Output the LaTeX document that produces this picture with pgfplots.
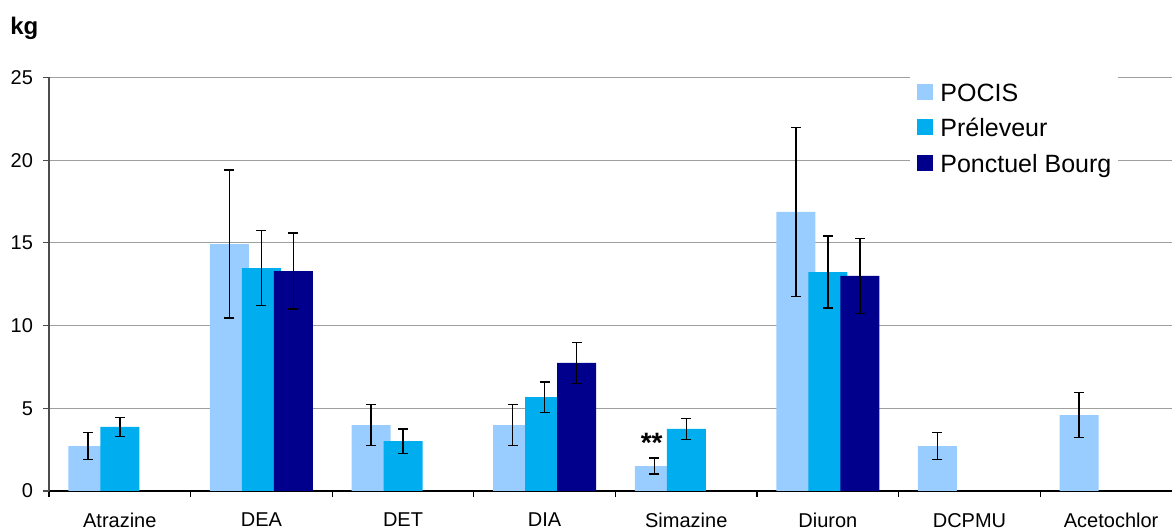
\documentclass[border=0pt]{standalone}
\usepackage{pgfplots}
\pgfplotsset{compat=1.18}
\usepackage{pgfplotstable}
\usepackage{fontspec}
\setmainfont{Liberation Sans}
\definecolor{cPOCIS}{RGB}{153,204,255}
\definecolor{cPrel}{RGB}{0,174,239}
\definecolor{cPonc}{RGB}{0,0,140}
\pgfplotstableread{
x y e
-0.226 2.72 0.83
0.774 14.93 4.48
1.774 3.99 1.24
2.774 3.99 1.24
3.774 1.51 0.48
4.774 16.87 5.10
5.774 2.72 0.83
6.774 4.59 1.37
}\pocis
\pgfplotstableread{
x y e
0 3.87 0.59
1 13.48 2.26
2 3.02 0.74
3 5.68 0.92
4 3.75 0.63
5 13.24 2.18
}\prel
\pgfplotstableread{
x y e
1.226 13.30 2.30
3.226 7.74 1.25
5.226 13.00 2.28
}\ponc
\begin{document}
\begin{tikzpicture}
\begin{axis}[
  scale only axis, width=561.5pt, height=206.75pt,
  at={(0pt,0pt)}, anchor=south west,
  xmin=-0.5, xmax=7.43, ymin=0, ymax=25,
  axis lines*=left,
  x axis line style={black, line width=0.8pt},
  y axis line style={black!70, line width=0.6pt},
  ytick={0,5,...,25},
  xtick={0,...,7},
  xticklabels={Atrazine,DEA,DET,DIA,Simazine,Diuron,DCPMU,Acetochlor},
  minor xtick={-0.5,0.5,...,6.5},
  tick align=outside,
  major tick length=3pt, minor tick length=3pt,
  major x tick style={draw=none},
  minor x tick style={black, line width=0.6pt},
  major y tick style={black!70, line width=0.6pt},
  ymajorgrids, grid style={gray!75, line width=0.5pt},
  tick label style={font=\fontsize{10}{12}\selectfont},
  xticklabel style={yshift=-4.5pt},
  yticklabel style={xshift=-1.5pt},
  /pgf/number format/assume math mode=true,
  ylabel={kg},
  every axis y label/.style={at={(rel axis cs:0,1)}, anchor=base west, xshift=-19.5pt, yshift=21.25pt, inner sep=0pt, font=\fontsize{12}{14}\selectfont\bfseries},
  legend style={at={(rel axis cs:0.7667,1.006)}, anchor=north west, draw=none, fill=white,
    font=\fontsize{12.5}{15}\selectfont, row sep=2.25pt, column sep=3.5pt,
    inner xsep=3.5pt, inner ysep=2pt,
    nodes={text height=9pt, text depth=2.5pt, inner xsep=0pt, inner ysep=2pt}},
  legend cell align=left,
  legend image code/.code={\fill[#1] (0pt,-2.5pt) rectangle (8pt,5.5pt);},
]
\addplot[ybar, bar width=0.2754, bar shift=0, fill=cPOCIS, draw=none,
  error bars/.cd, y dir=both, y explicit,
  error bar style={black, line width=0.7pt},
  error mark options={rotate=90, black, mark size=2.5pt, line width=0.7pt}] table[x=x, y=y, y error=e] {\pocis};
\addlegendentry{POCIS}
\addplot[ybar, bar width=0.2754, bar shift=0, fill=cPrel, draw=none,
  error bars/.cd, y dir=both, y explicit,
  error bar style={black, line width=0.7pt},
  error mark options={rotate=90, black, mark size=2.5pt, line width=0.7pt}] table[x=x, y=y, y error=e] {\prel};
\addlegendentry{Préleveur}
\addplot[ybar, bar width=0.2754, bar shift=0, fill=cPonc, draw=none,
  error bars/.cd, y dir=both, y explicit,
  error bar style={black, line width=0.7pt},
  error mark options={rotate=90, black, mark size=2.5pt, line width=0.7pt}] table[x=x, y=y, y error=e] {\ponc};
\addlegendentry{Ponctuel Bourg}
\node[anchor=base, inner sep=0pt, font=\fontsize{14}{16}\selectfont\bfseries] at (axis cs:3.756,2.32) {**};
\end{axis}
\pgfresetboundingbox
\path[use as bounding box] (-24.5pt,-19pt) rectangle (561.5pt,245.5pt);
\end{tikzpicture}
\end{document}
